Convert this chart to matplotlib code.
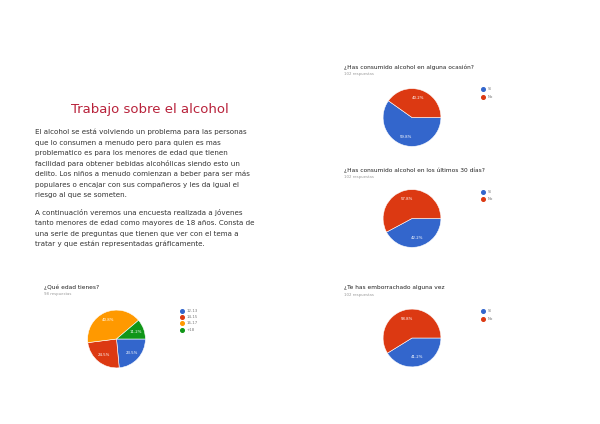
import matplotlib
matplotlib.use('Agg')
import matplotlib.pyplot as plt
from matplotlib.lines import Line2D

W, H = 600, 424

title = 'Trabajo sobre el alcohol'
para1 = [
    'El alcohol se está volviendo un problema para las personas',
    'que lo consumen a menudo pero para quien es mas',
    'problematico es para los menores de edad que tienen',
    'facilidad para obtener bebidas alcohólicas siendo esto un',
    'delito. Los niños a menudo comienzan a beber para ser más',
    'populares o encajar con sus compañeros y les da igual el',
    'riesgo al que se someten.',
]
para2 = [
    'A continuación veremos una encuesta realizada a jóvenes',
    'tanto menores de edad como mayores de 18 años. Consta de',
    'una serie de preguntas que tienen que ver con el tema a',
    'tratar y que están representadas gráficamente.',
]

yes_no = ['Sí', 'No']
q1_title = '¿Has consumido alcohol en alguna ocasión?'
q1_n = '102 respuestas'
q1_vals = [59.8, 40.2]
q2_title = '¿Has consumido alcohol en los últimos 30 días?'
q2_n = '102 respuestas'
q2_vals = [42.2, 57.8]
q3_title = '¿Te has emborrachado alguna vez'
q3_n = '102 respuestas'
q3_vals = [41.2, 58.8]

age_title = '¿Qué edad tienes?'
age_n = '98 respuestas'
age_labels = ['12-13', '14-15', '16-17', '+18']
age_vals = [23.5, 24.5, 40.8, 11.2]

colors = ['#3366cc', '#dc3912', '#ff9900', '#109618']

fig = plt.figure(figsize=(6, 4.24), dpi=100)
fig.patch.set_facecolor('white')


def ftext(x, y, s, **kw):
    fig.text(x / W, 1 - y / H, s, **kw)


ftext(150, 110, title, ha='center', va='center', fontsize=9.5,
      color='#b8213a', family='DejaVu Sans')
for i, line in enumerate(para1):
    ftext(35, 132 + i * 10.5, line, va='center', fontsize=5.1, color='#333333')
for i, line in enumerate(para2):
    ftext(35, 213 + i * 10.4, line, va='center', fontsize=5.1, color='#333333')


def pie_panel(tx, ty, qtitle, qn, cx, cy, vals, labels, lx, ly):
    ftext(tx, ty, qtitle, va='center', fontsize=4.2, color='#222222')
    ftext(tx, ty + 7, qn, va='center', fontsize=2.8, color='#999999')
    r = 29.5
    ax = fig.add_axes([(cx - r) / W, 1 - (cy + r) / H, 2 * r / W, 2 * r / H])
    ax.pie(vals, colors=colors[:len(vals)], startangle=0, counterclock=False,
           autopct='%.1f%%', pctdistance=0.7,
           wedgeprops=dict(edgecolor='white', linewidth=0.4),
           textprops=dict(color='white', fontsize=2.8))
    ax.set_xlim(-1.02, 1.02)
    ax.set_ylim(-1.02, 1.02)
    ax.axis('off')
    for i, lab in enumerate(labels):
        yy = ly + i * (6.2 if len(labels) > 2 else 7.5)
        fig.add_artist(Line2D([lx / W], [1 - yy / H], marker='o', markersize=2.6,
                              color=colors[i], transform=fig.transFigure))
        ftext(lx + 5, yy, lab, va='center', fontsize=2.8, color='#777777')


pie_panel(344, 67, q1_title, q1_n, 412, 117.5, q1_vals, yes_no, 483, 89)
pie_panel(344, 170, q2_title, q2_n, 412, 218.5, q2_vals, yes_no, 483, 192)
pie_panel(344, 288, q3_title, q3_n, 412, 338, q3_vals, yes_no, 483, 311)
pie_panel(44, 287, age_title, age_n, 116.5, 339, age_vals, age_labels, 182, 311)

fig.savefig('out.png', dpi=100, facecolor='white')
